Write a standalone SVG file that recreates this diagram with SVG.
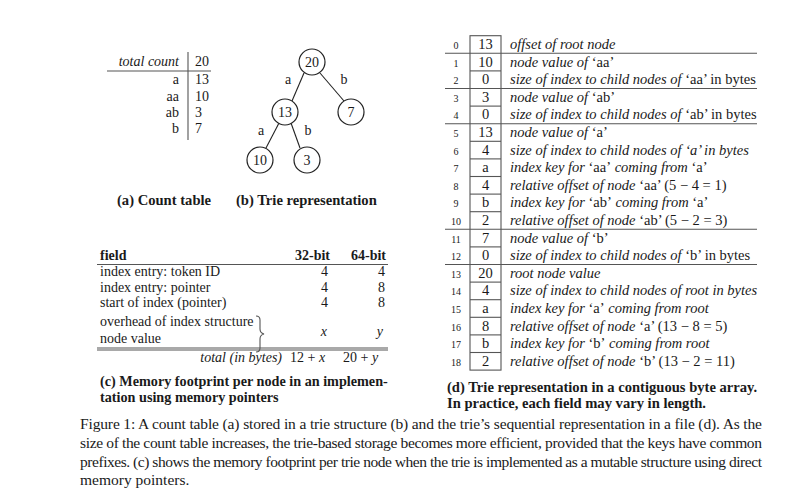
<svg xmlns="http://www.w3.org/2000/svg" width="811" height="495" viewBox="0 0 811 495">
<style>
text{font-family:"Liberation Serif","Times New Roman",serif;fill:#1a1a1a}
.t{font-size:14px}
.w{font-size:14.5px}
.i{font-style:italic}
.b{font-weight:bold}
.cap{font-size:14.6px;font-weight:bold}
.cap2{font-size:14.2px;font-weight:bold}
.num{font-size:10px;fill:#444;text-anchor:middle}
.cell{font-size:14.5px;text-anchor:middle}
.r{text-anchor:end}
.m{text-anchor:middle}
.ln{stroke:#555;stroke-width:1.1;fill:none}
.node circle{fill:#fff;stroke:#222;stroke-width:1.2}
.edge{stroke:#222;stroke-width:1.1}
.fig{font-size:15.5px}
</style>
<rect width="811" height="495" fill="#fff"/>

<!-- (a) Count table -->
<g id="count-table">
<line class="ln" x1="107" y1="71" x2="211" y2="71"/>
<line class="ln" x1="188" y1="52" x2="188" y2="140"/>
<text class="t i r" x="179" y="66">total count</text>
<text class="t" x="195" y="66">20</text>
<text class="t r" x="179" y="84">a</text><text class="t" x="195" y="84">13</text>
<text class="t r" x="179" y="101">aa</text><text class="t" x="195" y="101">10</text>
<text class="t r" x="179" y="117">ab</text><text class="t" x="195" y="117">3</text>
<text class="t r" x="179" y="133">b</text><text class="t" x="195" y="133">7</text>
</g>

<!-- (b) Trie -->
<g id="connectors">
<line class="edge" x1="304" y1="73" x2="292" y2="101"/>
<line class="edge" x1="320" y1="73" x2="344" y2="101"/>
<line class="edge" x1="279" y1="123" x2="266" y2="148"/>
<line class="edge" x1="291" y1="123" x2="300" y2="148"/>
</g>
<g id="trie-labels">
<text class="t m" x="288" y="84">a</text>
<text class="t m" x="344" y="84">b</text>
<text class="t m" x="261" y="135">a</text>
<text class="t m" x="308" y="135">b</text>
</g>
<g id="node-20" class="node"><circle cx="312" cy="62" r="13"/><text class="t m" x="312" y="67">20</text></g>
<g id="node-13" class="node"><circle cx="285" cy="112" r="13"/><text class="t m" x="285" y="117">13</text></g>
<g id="node-7" class="node"><circle cx="351" cy="112" r="13"/><text class="t m" x="351" y="117">7</text></g>
<g id="node-10" class="node"><circle cx="260" cy="160" r="13"/><text class="t m" x="260" y="165">10</text></g>
<g id="node-3" class="node"><circle cx="307" cy="160" r="13"/><text class="t m" x="307" y="165">3</text></g>

<text class="cap" x="117" y="205">(a) Count table</text>
<text class="cap" x="236" y="205">(b) Trie representation</text>

<!-- (c) Memory footprint table -->
<g id="memory-table">
<text class="t b" x="100" y="260">field</text>
<text class="t b r" x="330" y="260">32-bit</text>
<text class="t b r" x="386" y="260">64-bit</text>
<line class="ln" x1="97" y1="264.5" x2="388" y2="264.5"/>
<text class="t" x="100" y="276">index entry: token ID</text>
<text class="t r" x="328" y="276">4</text><text class="t r" x="385" y="276">4</text>
<text class="t" x="100" y="292">index entry: pointer</text>
<text class="t r" x="328" y="292">4</text><text class="t r" x="385" y="292">8</text>
<text class="t" x="100" y="307">start of index (pointer)</text>
<text class="t r" x="328" y="307">4</text><text class="t r" x="385" y="307">8</text>
<text class="t" x="100" y="326">overhead of index structure</text>
<text class="t" x="100" y="343">node value</text>
<path class="ln" d="M256 316 q4 0 4 4 v9 q0 4 4 5 q-4 1 -4 5 v9 q0 4 -4 4" stroke="#222"/>
<text class="t i r" x="327" y="336">x</text><text class="t i r" x="383" y="336">y</text>
<line class="ln" x1="97" y1="348" x2="388" y2="348"/>
<line class="ln" x1="97" y1="350" x2="388" y2="350"/>
<text class="t i r" x="282" y="362">total (in bytes)</text>
<text class="t" x="290" y="362">12 + <tspan class="i">x</tspan></text>
<text class="t" x="343" y="362">20 + <tspan class="i">y</tspan></text>
</g>
<text class="cap2" x="100" y="386">(c) Memory footprint per node in an implemen-</text>
<text class="cap2" x="100" y="401.5">tation using memory pointers</text>

<!-- (d) Byte array -->
<g id="byte-array">
<rect class="ln" x="470" y="35.7" width="31" height="334.4"/>
<g class="ln">
<line x1="445" y1="53.3" x2="757" y2="53.3"/>
<line x1="470" y1="70.9" x2="501" y2="70.9"/>
<line x1="445" y1="88.5" x2="757" y2="88.5"/>
<line x1="470" y1="106.1" x2="501" y2="106.1"/>
<line x1="445" y1="123.7" x2="757" y2="123.7"/>
<line x1="470" y1="141.3" x2="501" y2="141.3"/>
<line x1="470" y1="158.9" x2="501" y2="158.9"/>
<line x1="470" y1="176.5" x2="501" y2="176.5"/>
<line x1="470" y1="194.1" x2="501" y2="194.1"/>
<line x1="470" y1="211.7" x2="501" y2="211.7"/>
<line x1="445" y1="229.3" x2="757" y2="229.3"/>
<line x1="470" y1="246.9" x2="501" y2="246.9"/>
<line x1="445" y1="264.5" x2="757" y2="264.5"/>
<line x1="470" y1="282.1" x2="501" y2="282.1"/>
<line x1="470" y1="299.7" x2="501" y2="299.7"/>
<line x1="470" y1="317.3" x2="501" y2="317.3"/>
<line x1="470" y1="334.9" x2="501" y2="334.9"/>
<line x1="470" y1="352.5" x2="501" y2="352.5"/>
</g>
<g class="num">
<text x="456" y="49">0</text><text x="456" y="66.6">1</text><text x="456" y="84.2">2</text><text x="456" y="101.8">3</text>
<text x="456" y="119.4">4</text><text x="456" y="137">5</text><text x="456" y="154.6">6</text><text x="456" y="172.2">7</text>
<text x="456" y="189.8">8</text><text x="456" y="207.4">9</text><text x="456" y="225">10</text><text x="456" y="242.6">11</text>
<text x="456" y="260.2">12</text><text x="456" y="277.8">13</text><text x="456" y="295.4">14</text><text x="456" y="313">15</text>
<text x="456" y="330.6">16</text><text x="456" y="348.2">17</text><text x="456" y="365.8">18</text>
</g>
<g class="cell">
<text x="485.5" y="49">13</text><text x="485.5" y="66.6">10</text><text x="485.5" y="84.2">0</text><text x="485.5" y="101.8">3</text>
<text x="485.5" y="119.4">0</text><text x="485.5" y="137">13</text><text x="485.5" y="154.6">4</text><text x="485.5" y="172.2">a</text>
<text x="485.5" y="189.8">4</text><text x="485.5" y="207.4">b</text><text x="485.5" y="225">2</text><text x="485.5" y="242.6">7</text>
<text x="485.5" y="260.2">0</text><text x="485.5" y="277.8">20</text><text x="485.5" y="295.4">4</text><text x="485.5" y="313">a</text>
<text x="485.5" y="330.6">8</text><text x="485.5" y="348.2">b</text><text x="485.5" y="365.8">2</text>
</g>
<g class="w">
<text x="510" y="49" class="i">offset of root node</text>
<text x="510" y="66.6"><tspan class="i">node value of </tspan>‘aa’</text>
<text x="510" y="84.2"><tspan class="i">size of index to child nodes of </tspan>‘aa’ in bytes</text>
<text x="510" y="101.8"><tspan class="i">node value of </tspan>‘ab’</text>
<text x="510" y="119.4"><tspan class="i">size of index to child nodes of </tspan>‘ab’ in bytes</text>
<text x="510" y="137"><tspan class="i">node value of </tspan>‘a’</text>
<text x="510" y="154.6" class="i">size of index to child nodes of ‘a’ in bytes</text>
<text x="510" y="172.2"><tspan class="i">index key for </tspan>‘aa’<tspan class="i"> coming from </tspan>‘a’</text>
<text x="510" y="189.8"><tspan class="i">relative offset of node </tspan>‘aa’ (5 − 4 = 1)</text>
<text x="510" y="207.4"><tspan class="i">index key for </tspan>‘ab’<tspan class="i"> coming from </tspan>‘a’</text>
<text x="510" y="225"><tspan class="i">relative offset of node </tspan>‘ab’ (5 − 2 = 3)</text>
<text x="510" y="242.6"><tspan class="i">node value of </tspan>‘b’</text>
<text x="510" y="260.2"><tspan class="i">size of index to child nodes of </tspan>‘b’ in bytes</text>
<text x="510" y="277.8" class="i">root node value</text>
<text x="510" y="295.4" class="i">size of index to child nodes of root in bytes</text>
<text x="510" y="313"><tspan class="i">index key for </tspan>‘a’<tspan class="i"> coming from root</tspan></text>
<text x="510" y="330.6"><tspan class="i">relative offset of node </tspan>‘a’ (13 − 8 = 5)</text>
<text x="510" y="348.2"><tspan class="i">index key for </tspan>‘b’<tspan class="i"> coming from root</tspan></text>
<text x="510" y="365.8"><tspan class="i">relative offset of node </tspan>‘b’ (13 − 2 = 11)</text>
</g>
</g>
<text class="cap" x="447" y="391.5">(d) Trie representation in a contiguous byte array.</text>
<text class="cap" x="447" y="407.5">In practice, each field may vary in length.</text>

<!-- Figure caption -->
<g class="fig">
<text x="80" y="429" textLength="682" lengthAdjust="spacing">Figure 1: A count table (a) stored in a trie structure (b) and the trie’s sequential representation in a file (d).  As the</text>
<text x="80" y="448" textLength="682" lengthAdjust="spacing">size of the count table increases, the trie-based storage becomes more efficient, provided that the keys have common</text>
<text x="80" y="467" textLength="682" lengthAdjust="spacing">prefixes. (c) shows the memory footprint per trie node when the trie is implemented as a mutable structure using direct</text>
<text x="80" y="485">memory pointers.</text>
</g>
</svg>
